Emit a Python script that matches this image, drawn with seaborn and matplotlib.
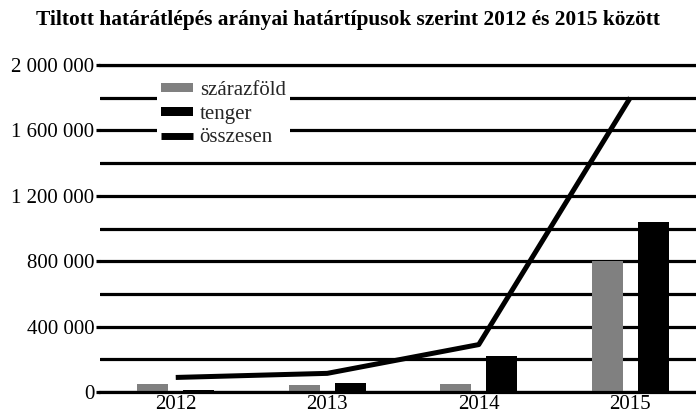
import matplotlib
matplotlib.use("Agg")
import matplotlib.pyplot as plt
import seaborn as sns
import pandas as pd
import numpy as np
from matplotlib.patches import Patch
from matplotlib.lines import Line2D
from matplotlib.ticker import FixedLocator, FixedFormatter, MultipleLocator

years = ['2012', '2013', '2014', '2015']
szarazfold = [47000, 41000, 50000, 800000]
tenger = [15000, 53000, 222000, 1038000]
osszesen = [89000, 114000, 290000, 1800000]
series_names = ['szárazföld', 'tenger', 'összesen']
ytick_vals = [0, 400000, 800000, 1200000, 1600000, 2000000]
ytick_labels = ['0', '400 000', '800 000', '1 200 000', '1 600 000', '2 000 000']
title = 'Tiltott határátlépés arányai határtípusok szerint 2012 és 2015 között'

sns.set_style('white')
plt.rcParams['font.family'] = ['Liberation Serif', 'DejaVu Serif']

df = pd.DataFrame({
    'year': years * 2,
    'value': szarazfold + tenger,
    'type': [series_names[0]] * 4 + [series_names[1]] * 4,
})

fig = plt.figure(figsize=(6.96, 4.16), dpi=100)
ax = fig.add_axes([100 / 696, 1 - 392 / 416, 606 / 696, 327 / 416])

palette = {series_names[0]: '#808080', series_names[1]: '#000000'}
sns.barplot(data=df, x='year', y='value', hue='type', palette=palette,
            width=0.61, gap=0.33, saturation=1, legend=False, ax=ax, zorder=2,
            linewidth=0, edgecolor='none')
sns.lineplot(x=years, y=osszesen, color='black', linewidth=3.6, ax=ax,
             zorder=3, legend=False, solid_capstyle='butt')

ax.set_xlim(-0.5, 3.5)
ax.set_ylim(0, 2000000)
ax.yaxis.set_major_locator(FixedLocator(ytick_vals))
ax.yaxis.set_major_formatter(FixedFormatter(ytick_labels))
ax.yaxis.set_minor_locator(MultipleLocator(200000))
ax.grid(axis='y', which='both', color='black', linewidth=2.3)
ax.set_axisbelow(True)
for s in ['left', 'right']:
    ax.spines[s].set_visible(False)
for s in ['top', 'bottom']:
    ax.spines[s].set_color('black')
    ax.spines[s].set_linewidth(2.3)
ax.tick_params(axis='y', which='major', length=3, width=2.3, color='black',
               labelsize=15, pad=1, left=True)
ax.tick_params(axis='y', which='minor', length=0)
ax.tick_params(axis='x', length=0, labelsize=15, pad=2)
ax.set_xlabel('')
ax.set_ylabel('')
for t in ax.get_xticklabels() + ax.get_yticklabels():
    t.set_color('black')

handles = [Patch(facecolor='#808080', edgecolor='none'),
           Patch(facecolor='#000000', edgecolor='none'),
           Line2D([], [], color='black', linewidth=5, solid_capstyle='butt')]
leg = ax.legend(handles, series_names, loc='upper left',
                bbox_to_anchor=(157 / 696, 1 - 77 / 416),
                bbox_transform=fig.transFigure, frameon=True, fontsize=15,
                handlelength=1.55, handleheight=0.3, handletextpad=0.3,
                labelspacing=0.22, borderpad=0.2, borderaxespad=0, fancybox=False)
leg.get_frame().set_facecolor('white')
leg.get_frame().set_edgecolor('none')
leg.get_frame().set_alpha(1)
leg.set_zorder(5)

fig.text(0.5, 1 - 20 / 416, title, ha='center', va='center',
         fontsize=15.4, fontweight='bold', color='black')

fig.savefig('out.png', dpi=100)
